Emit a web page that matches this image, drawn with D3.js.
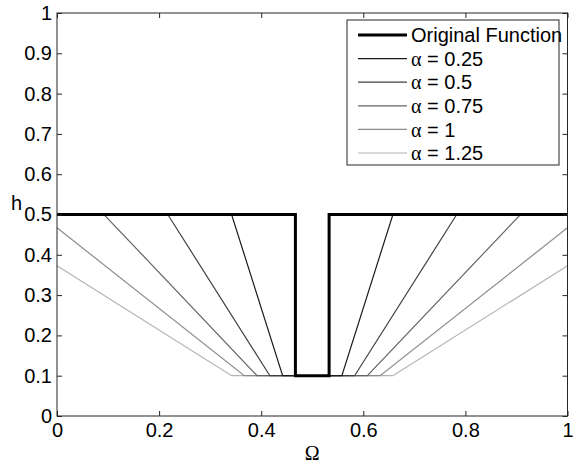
<!DOCTYPE html>
<html>
<head>
<meta charset="utf-8">
<script src="https://cdn.jsdelivr.net/npm/d3@7"></script>
<style>
  html, body { margin: 0; padding: 0; background: #fff; }
  svg { display: block; font-family: "Liberation Sans", Arial, sans-serif; }
</style>
</head>
<body>
<svg id="chart" width="578" height="463"></svg>
<script>
// Filter response h(Ω): the original step function and its smoothed versions for several α
const seriesNames = ["Original Function", "α = 0.25", "α = 0.5", "α = 0.75", "α = 1", "α = 1.25"];
const originalX = [0, 0.467, 0.467, 0.533, 0.533, 1];
const originalY = [0.5, 0.5, 0.1, 0.1, 0.5, 0.5];
const alpha025X = [0, 0.342, 0.442, 0.558, 0.658, 1];
const alpha025Y = [0.5, 0.5, 0.1, 0.1, 0.5, 0.5];
const alpha050X = [0, 0.217, 0.417, 0.583, 0.783, 1];
const alpha050Y = [0.5, 0.5, 0.1, 0.1, 0.5, 0.5];
const alpha075X = [0, 0.092, 0.392, 0.608, 0.908, 1];
const alpha075Y = [0.5, 0.5, 0.1, 0.1, 0.5, 0.5];
const alpha100X = [0, 0.367, 0.633, 1];
const alpha100Y = [0.467, 0.1, 0.1, 0.467];
const alpha125X = [0, 0.342, 0.658, 1];
const alpha125Y = [0.373, 0.1, 0.1, 0.373];
const xTicks = [0, 0.2, 0.4, 0.6, 0.8, 1];
const yTicks = [0, 0.1, 0.2, 0.3, 0.4, 0.5, 0.6, 0.7, 0.8, 0.9, 1];
const xTickLabels = ["0", "0.2", "0.4", "0.6", "0.8", "1"];
const yTickLabels = ["0", "0.1", "0.2", "0.3", "0.4", "0.5", "0.6", "0.7", "0.8", "0.9", "1"];

const series = [
  { name: seriesNames[0], xs: originalX, ys: originalY, color: "#000000", width: 3 },
  { name: seriesNames[1], xs: alpha025X, ys: alpha025Y, color: "#1a1a1a", width: 1.2 },
  { name: seriesNames[2], xs: alpha050X, ys: alpha050Y, color: "#404040", width: 1.2 },
  { name: seriesNames[3], xs: alpha075X, ys: alpha075Y, color: "#666666", width: 1.2 },
  { name: seriesNames[4], xs: alpha100X, ys: alpha100Y, color: "#8c8c8c", width: 1.2 },
  { name: seriesNames[5], xs: alpha125X, ys: alpha125Y, color: "#b3b3b3", width: 1.2 }
];

const svg = d3.select("#chart");
const plotLeft = 57, plotRight = 567.5, plotTop = 13, plotBottom = 416;
const x = d3.scaleLinear().domain([0, 1]).range([plotLeft, plotRight]);
const y = d3.scaleLinear().domain([0, 1]).range([plotBottom, plotTop]);
const axisColor = "#262626";
const fontSize = 20;

// Curves (lighter ones first so the darker ones sit on top)
const line = d3.line().x(d => x(d[0])).y(d => y(d[1]));
const drawOrder = series.slice().reverse();
svg.append("g").selectAll("path")
  .data(drawOrder)
  .join("path")
  .attr("d", s => line(d3.zip(s.xs, s.ys)))
  .attr("fill", "none")
  .attr("stroke", s => s.color)
  .attr("stroke-width", s => s.width)
  .attr("stroke-linejoin", "miter");

// Axes with inward ticks on all four sides
const tickLen = 5;
const styleAxis = g => {
  g.select(".domain").remove();
  g.selectAll(".tick line").attr("stroke", axisColor);
  g.selectAll(".tick text").attr("fill", "#000").attr("font-size", fontSize)
    .attr("font-family", "Liberation Sans, Arial, sans-serif");
};
svg.append("g").attr("transform", `translate(0,${plotBottom})`)
  .call(d3.axisBottom(x).tickValues(xTicks).tickFormat((d, i) => xTickLabels[i])
    .tickSizeInner(-tickLen).tickSizeOuter(0).tickPadding(7))
  .call(styleAxis);
svg.append("g").attr("transform", `translate(0,${plotTop})`)
  .call(d3.axisTop(x).tickValues(xTicks).tickFormat("")
    .tickSizeInner(-tickLen).tickSizeOuter(0))
  .call(styleAxis);
svg.append("g").attr("transform", `translate(${plotLeft},0)`)
  .call(d3.axisLeft(y).tickValues(yTicks).tickFormat((d, i) => yTickLabels[i])
    .tickSizeInner(-tickLen).tickSizeOuter(0).tickPadding(5))
  .call(styleAxis);
svg.append("g").attr("transform", `translate(${plotRight},0)`)
  .call(d3.axisRight(y).tickValues(yTicks).tickFormat("")
    .tickSizeInner(-tickLen).tickSizeOuter(0))
  .call(styleAxis);

// Axes box
svg.append("rect")
  .attr("x", plotLeft).attr("y", plotTop)
  .attr("width", plotRight - plotLeft).attr("height", plotBottom - plotTop)
  .attr("fill", "none").attr("stroke", axisColor).attr("stroke-width", 1);

// Axis labels
svg.append("text")
  .attr("x", (plotLeft + plotRight) / 2).attr("y", 460)
  .attr("text-anchor", "middle")
  .attr("font-family", "Liberation Serif, Times New Roman, serif")
  .attr("font-size", fontSize)
  .text("Ω");
svg.append("text")
  .attr("x", 11).attr("y", 210)
  .attr("font-size", fontSize)
  .text("h");

// Legend
const legendX = 347, legendY = 20, legendW = 212, legendH = 145;
const legend = svg.append("g");
legend.append("rect")
  .attr("x", legendX).attr("y", legendY)
  .attr("width", legendW).attr("height", legendH)
  .attr("fill", "#fff").attr("stroke", axisColor).attr("stroke-width", 1);
const rowY = i => 35 + i * 23.6;
const rows = legend.selectAll("g.row").data(series).join("g").attr("class", "row");
rows.append("line")
  .attr("x1", 358).attr("x2", 407)
  .attr("y1", (d, i) => rowY(i)).attr("y2", (d, i) => rowY(i))
  .attr("stroke", d => d.color).attr("stroke-width", d => d.width);
rows.append("text")
  .attr("x", 411).attr("y", (d, i) => rowY(i))
  .attr("dy", "0.36em")
  .attr("font-size", fontSize)
  .each(function (d) {
    const t = d3.select(this);
    if (d.name.startsWith("α")) {
      t.append("tspan").attr("font-family", "Liberation Serif, Times New Roman, serif").text("α");
      t.append("tspan").text(d.name.slice(1));
    } else {
      t.text(d.name);
    }
  });
</script>
</body>
</html>
